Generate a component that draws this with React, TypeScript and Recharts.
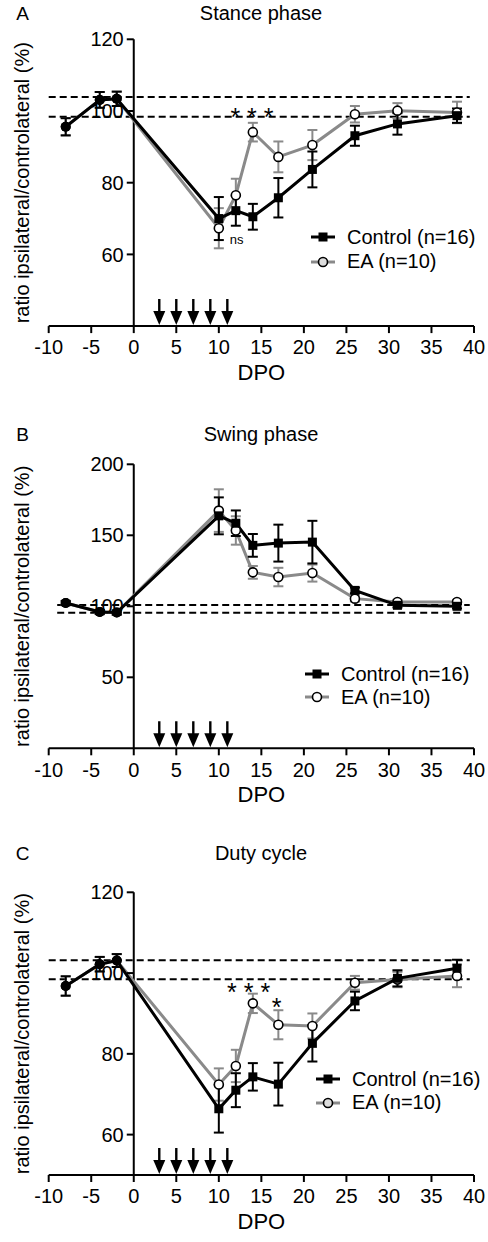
import React from "react";
import {
  ComposedChart,
  Line,
  XAxis,
  YAxis,
  ErrorBar,
  ReferenceLine,
  ReferenceDot,
  Scatter,
  Legend,
} from "recharts";

const FONT = "'Liberation Sans', Arial, sans-serif";
const GRAY = "#8a8a8a";

const days = [-8, -4, -2, 10, 12, 14, 17, 21, 26, 31, 38];
const arrowDays = [3, 5, 7, 9, 11];
const xTicks = [-10, -5, 0, 5, 10, 15, 20, 25, 30, 35, 40];

// A - stance phase
const stanceControl = [95.6, 103.1, 103.4, 70.0, 72.2, 70.5, 75.8, 83.7, 93.1, 96.4, 98.7];
const stanceControlSem = [2.4, 2.2, 2.0, 6.0, 4.2, 3.6, 5.5, 5.0, 2.8, 3.0, 2.0];
const stanceEA = [95.6, 103.1, 103.4, 67.3, 76.5, 94.1, 87.2, 90.5, 99.1, 100.1, 99.6];
const stanceEASem = [2.4, 2.2, 2.0, 5.6, 4.6, 2.6, 4.3, 4.2, 2.3, 2.1, 3.0];
const stanceBand = [98.4, 103.9];
const stanceTicks = [60, 80, 100, 120];

// B - swing phase
const swingControl = [102.3, 96.0, 95.6, 163.7, 158.5, 142.9, 144.5, 145.2, 111.2, 100.7, 100.0];
const swingControlSem = [1.5, 1.5, 1.5, 13, 9, 8, 13, 15, 2, 1.5, 1.5];
const swingEA = [102.3, 96.0, 95.6, 167.4, 153.4, 123.9, 120.6, 123.4, 105.4, 103.0, 103.0];
const swingEASem = [1.5, 1.5, 1.5, 15, 10, 4.5, 6.5, 6, 2, 1.5, 1.5];
const swingBand = [95.5, 101];
const swingTicks = [50, 100, 150, 200];

// C - duty cycle
const dutyControl = [96.8, 102.2, 103.1, 66.4, 71.0, 74.3, 72.5, 82.6, 93.1, 98.7, 101.2];
const dutyControlSem = [2.4, 1.8, 1.6, 5.9, 4.2, 3.4, 5.3, 4.5, 2.3, 2.0, 2.1];
const dutyEA = [96.8, 102.2, 103.1, 72.4, 77.0, 92.5, 87.2, 86.9, 97.6, 98.4, 99.3];
const dutyEASem = [2.4, 1.8, 1.6, 4.0, 4.0, 2.4, 3.6, 3.1, 1.7, 1.9, 2.8];
const dutyBand = [98.5, 103.2];
const dutyTicks = [60, 80, 100, 120];

const yLabel = "ratio ipsilateral/controlateral (%)";

function buildRows(c: number[], cErr: number[], e: number[], eErr: number[]) {
  return days.map((x, i) => ({ x, c: c[i], cErr: cErr[i], e: e[i], eErr: eErr[i] }));
}

const ControlDot = (props: any) => {
  const { cx, cy, payload } = props;
  if (cx == null || cy == null) return null;
  if (payload.x < 0) return <circle cx={cx} cy={cy} r={5} fill="#000" />;
  return <rect x={cx - 4.5} y={cy - 4.5} width={9} height={9} fill="#000" />;
};

const EADot = (props: any) => {
  const { cx, cy, payload } = props;
  if (cx == null || cy == null) return null;
  if (payload.x < 0) return <circle cx={cx} cy={cy} r={5} fill="#000" />;
  return <circle cx={cx} cy={cy} r={4.5} fill="#fff" stroke="#000" strokeWidth={1.6} />;
};

const Arrow = (props: any) => {
  const { cx, cy } = props;
  return (
    <g>
      <line x1={cx} y1={cy - 27} x2={cx} y2={cy - 12} stroke="#000" strokeWidth={2.4} />
      <polygon points={`${cx - 6},${cy - 15} ${cx + 6},${cy - 15} ${cx},${cy - 1}`} fill="#000" />
    </g>
  );
};

const YTick = (props: any) => {
  const { cx, cy } = props;
  return <line x1={cx - 7} y1={cy} x2={cx} y2={cy} stroke="#000" strokeWidth={2} />;
};

type Note = { x: number; y: number; text: string; size: number };

type PanelProps = {
  height: number;
  top: number;
  bottom: number;
  yDomain: [number, number];
  yTicks: number[];
  band: number[];
  bandStart: number;
  control: number[];
  controlSem: number[];
  ea: number[];
  eaSem: number[];
  notes: Note[];
  legendLeft: number;
  legendTop: number;
  legendGap: number;
  eaFill: string;
};

function LegendBox({ gap, eaFill }: { gap: number; eaFill: string }) {
  const row = (label: string, color: string, marker: React.ReactNode) => (
    <div style={{ display: "flex", alignItems: "center", height: gap }}>
      <svg width={26} height={14} style={{ marginRight: 10 }}>
        <line x1={0} y1={7} x2={24} y2={7} stroke={color} strokeWidth={3} />
        {marker}
      </svg>
      <span style={{ fontSize: 20, fontFamily: FONT, color: "#000" }}>{label}</span>
    </div>
  );
  return (
    <div>
      {row("Control (n=16)", "#000", <rect x={7.5} y={2.5} width={9} height={9} fill="#000" />)}
      {row("EA (n=10)", GRAY, <circle cx={12} cy={7} r={4.5} fill={eaFill} stroke="#000" strokeWidth={1.6} />)}
    </div>
  );
}

function Panel(p: PanelProps) {
  const rows = buildRows(p.control, p.controlSem, p.ea, p.eaSem);
  const arrows = arrowDays.map((x) => ({ x, a: p.yDomain[0] }));
  return (
    <ComposedChart
      width={488}
      height={p.height}
      data={rows}
      margin={{ top: p.top, right: 14, bottom: p.bottom, left: 8.7 }}
      style={{ fontFamily: FONT }}
    >
      <XAxis
        type="number"
        dataKey="x"
        domain={[-10, 40]}
        ticks={xTicks}
        interval={0}
        allowDataOverflow
        height={60}
        tickSize={7}
        tickMargin={7}
        stroke="#000"
        strokeWidth={2}
        tick={{ fontSize: 20, fill: "#000" }}
        label={{ value: "DPO", position: "insideBottom", offset: 6, fontSize: 22, fill: "#000" }}
      />
      <YAxis
        type="number"
        domain={p.yDomain}
        allowDataOverflow
        width={40}
        tick={false}
        tickLine={false}
        axisLine={false}
        label={{
          value: yLabel,
          angle: -90,
          position: "insideLeft",
          offset: 13,
          fontSize: 20,
          fill: "#000",
          style: { textAnchor: "middle" },
        }}
      />
      <ReferenceLine x={0} stroke="#000" strokeWidth={2} />
      {p.band.map((v) => (
        <ReferenceLine
          key={"b" + v}
          segment={[
            { x: p.bandStart, y: v },
            { x: 39.5, y: v },
          ]}
          stroke="#000"
          strokeWidth={2}
          strokeDasharray="7 4"
        />
      ))}
      {p.yTicks.map((v) => (
        <ReferenceDot
          key={"t" + v}
          x={0}
          y={v}
          r={0}
          shape={YTick}
          label={{ value: v, position: "left", offset: 10, fontSize: 20, fill: "#000" }}
        />
      ))}
      <Scatter data={arrows} dataKey="a" shape={Arrow} isAnimationActive={false} legendType="none" />
      <Line
        dataKey="e"
        stroke={GRAY}
        strokeWidth={3}
        dot={(d: any) => <EADot key={"e" + d.index} {...d} />}
        isAnimationActive={false}
      >
        <ErrorBar dataKey="eErr" direction="y" width={5} stroke={GRAY} strokeWidth={2} />
      </Line>
      <Line
        dataKey="c"
        stroke="#000"
        strokeWidth={3}
        dot={(d: any) => <ControlDot key={"c" + d.index} {...d} />}
        isAnimationActive={false}
      >
        <ErrorBar dataKey="cErr" direction="y" width={5} stroke="#000" strokeWidth={2} />
      </Line>
      {p.notes.map((n, i) => (
        <ReferenceDot
          key={"n" + i}
          x={n.x}
          y={n.y}
          r={0}
          label={{ value: n.text, position: "center", fontSize: n.size, fill: "#000" }}
        />
      ))}
      <Legend
        layout="vertical"
        align="center"
        verticalAlign="middle"
        wrapperStyle={{ left: p.legendLeft, top: p.legendTop, width: 180 }}
        content={() => <LegendBox gap={p.legendGap} eaFill={p.eaFill} />}
      />
    </ComposedChart>
  );
}

const titles = [
  { letter: "A", title: "Stance phase", y: 20 },
  { letter: "B", title: "Swing phase", y: 441 },
  { letter: "C", title: "Duty cycle", y: 860 },
];

export default function App() {
  return (
    <div
      style={{
        position: "absolute",
        left: 0,
        top: 0,
        width: 488,
        height: 1242,
        background: "#fff",
        fontFamily: FONT,
      }}
    >
      <div style={{ position: "absolute", left: 0, top: 0 }}>
        <Panel
          height={400}
          top={39.3}
          bottom={13.9}
          yDomain={[40, 120]}
          yTicks={stanceTicks}
          band={stanceBand}
          bandStart={-10}
          control={stanceControl}
          controlSem={stanceControlSem}
          ea={stanceEA}
          eaSem={stanceEASem}
          notes={[
            { x: 13.9, y: 98.3, text: "* * *", size: 25 },
            { x: 12.1, y: 64.3, text: "ns", size: 13 },
          ]}
          legendLeft={311}
          legendTop={225}
          legendGap={24.4}
          eaFill="#ddd"
        />
      </div>
      <div style={{ position: "absolute", left: 0, top: 400 }}>
        <Panel
          height={420}
          top={64.3}
          bottom={11.7}
          yDomain={[0, 200]}
          yTicks={swingTicks}
          band={swingBand}
          bandStart={-9}
          control={swingControl}
          controlSem={swingControlSem}
          ea={swingEA}
          eaSem={swingEASem}
          notes={[]}
          legendLeft={305}
          legendTop={262.8}
          legendGap={23}
          eaFill="#fff"
        />
      </div>
      <div style={{ position: "absolute", left: 0, top: 820 }}>
        <Panel
          height={422}
          top={72.3}
          bottom={7}
          yDomain={[50, 120]}
          yTicks={dutyTicks}
          band={dutyBand}
          bandStart={-10}
          control={dutyControl}
          controlSem={dutyControlSem}
          ea={dutyEA}
          eaSem={dutyEASem}
          notes={[
            { x: 13.5, y: 95.4, text: "* * *", size: 25 },
            { x: 16.8, y: 91.6, text: "*", size: 25 },
          ]}
          legendLeft={316}
          legendTop={247.6}
          legendGap={23.4}
          eaFill="#ddd"
        />
      </div>
      <svg
        width={488}
        height={1242}
        style={{ position: "absolute", left: 0, top: 0, pointerEvents: "none" }}
      >
        {titles.map((t) => (
          <g key={t.letter} fontFamily={FONT} fill="#000">
            <text x={22.5} y={t.y} fontSize={19} textAnchor="middle">
              {t.letter}
            </text>
            <text x={261} y={t.y} fontSize={20} textAnchor="middle">
              {t.title}
            </text>
          </g>
        ))}
      </svg>
    </div>
  );
}
